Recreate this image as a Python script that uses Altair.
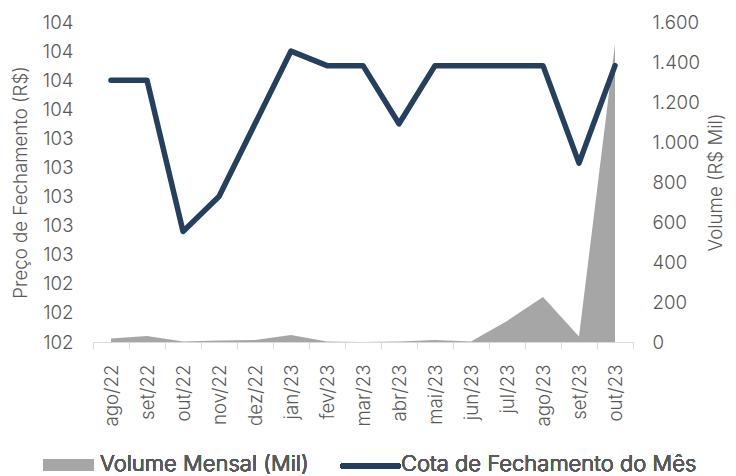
import altair as alt
import pandas as pd

meses = ["ago/22", "set/22", "out/22", "nov/22", "dez/22", "jan/23", "fev/23", "mar/23",
         "abr/23", "mai/23", "jun/23", "jul/23", "ago/23", "set/23", "out/23"]
cota = [103.80, 103.80, 102.76, 103.00, 103.50, 104.00, 103.90, 103.90,
        103.50, 103.90, 103.90, 103.90, 103.90, 103.23, 103.90]
volume = [18, 30, 3, 8, 10, 35, 2, 0, 2, 10, 2, 105, 225, 28, 1490]
preco_ticks = [102.0, 102.2, 102.4, 102.6, 102.8, 103.0, 103.2, 103.4, 103.6, 103.8, 104.0, 104.2]
vol_ticks = [0, 200, 400, 600, 800, 1000, 1200, 1400, 1600]

df = pd.DataFrame({"mes": meses, "cota": cota, "volume": volume})

FONT = "Inter"
GREY = "#595959"
NAVY = "#253F5F"
AREA = "#A6A6A6"

xenc = alt.X(
    "mes:N", sort=meses, bandPosition=0.5,
    scale=alt.Scale(type="band", paddingInner=0, paddingOuter=0),
    axis=alt.Axis(title=None, labelAngle=270, labelAlign="right", labelBaseline="middle",
                  tickBand="extent", tickSize=7, labelPadding=15,
                  domainColor="#D9D9D9", tickColor="#D9D9D9", grid=False),
)

area = alt.Chart(df).mark_area(color=AREA, opacity=1).encode(
    x=xenc,
    y=alt.Y("volume:Q", scale=alt.Scale(domain=[0, 1600], nice=False),
            axis=alt.Axis(orient="right", title="Volume (R$ Mil)", values=vol_ticks,
                          labelExpr="replace(format(datum.value, ','), ',', '.')",
                          domain=False, ticks=False, grid=False, labelPadding=19,
                          titleAngle=270, titleX=82, titleY=160,
                          titleAlign="center", titleBaseline="middle")),
)

line = alt.Chart(df).mark_line(color=NAVY, strokeWidth=5.5, strokeCap="round", strokeJoin="round").encode(
    x=xenc,
    y=alt.Y("cota:Q", scale=alt.Scale(domain=[102.0, 104.2], nice=False, zero=False),
            axis=alt.Axis(orient="left", title="Preço de Fechamento (R$)", values=preco_ticks,
                          format=".0f", domain=False, ticks=False, grid=False, labelPadding=20,
                          titleAngle=270, titleX=-73, titleY=160,
                          titleAlign="center", titleBaseline="middle")),
)

leg_rect = alt.Chart(df).mark_rect(color=AREA).encode(
    x=alt.value(-50), x2=alt.value(1), y=alt.value(437), y2=alt.value(449))
leg_t1 = alt.Chart(df).mark_text(align="left", baseline="middle", font=FONT, fontSize=22,
                                 fontWeight=300, color=GREY, text="Volume Mensal (Mil)").encode(
    x=alt.value(7), y=alt.value(442))
leg_line = alt.Chart(df).mark_rule(color=NAVY, strokeWidth=5.5, strokeCap="round").encode(
    x=alt.value(250), x2=alt.value(305), y=alt.value(444), y2=alt.value(444))
leg_t2 = alt.Chart(df).mark_text(align="left", baseline="middle", font=FONT, fontSize=22,
                                 fontWeight=300, color=GREY, text="Cota de Fechamento do Mês").encode(
    x=alt.value(308), y=alt.value(442))

chart = alt.layer(area, line, leg_rect, leg_t1, leg_line, leg_t2).resolve_scale(
    y="independent"
).properties(
    width=540, height=320,
    padding={"left": 85, "top": 14, "right": 95, "bottom": 134},
    autosize=alt.AutoSizeParams(type="none"),
).configure_view(stroke=None).configure_axis(
    labelFont=FONT, titleFont=FONT, labelFontSize=18.7, titleFontSize=18.7,
    labelFontWeight=300, titleFontWeight=300,
    labelColor=GREY, titleColor=GREY,
)

chart.save("out.html", embed_options={"renderer": "svg", "actions": False})
